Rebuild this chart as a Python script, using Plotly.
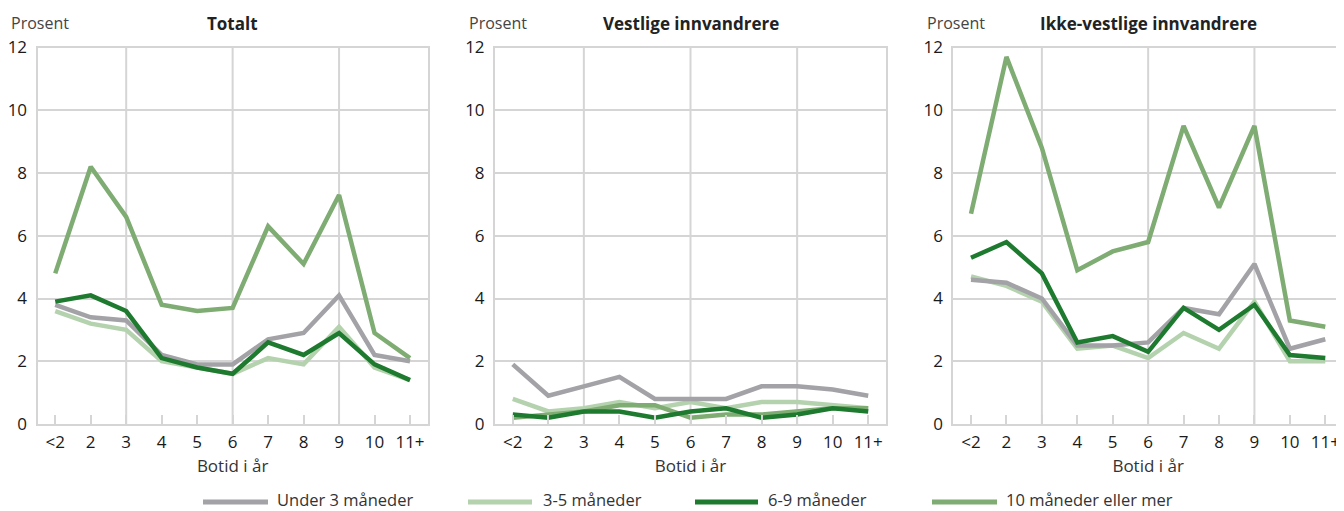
import plotly.graph_objects as go

# ---------------- data ----------------
categories = ["<2", "2", "3", "4", "5", "6", "7", "8", "9", "10", "11+"]
series_names = ["Under 3 måneder", "3-5 måneder", "6-9 måneder", "10 måneder eller mer"]
panel_titles = ["Totalt", "Vestlige innvandrere", "Ikke-vestlige innvandrere"]
grid_categories = ["3", "6", "9"]

totalt_under3 = [3.8, 3.4, 3.3, 2.2, 1.9, 1.9, 2.7, 2.9, 4.1, 2.2, 2.0]
totalt_3_5 = [3.6, 3.2, 3.0, 2.0, 1.8, 1.6, 2.1, 1.9, 3.1, 1.8, 1.4]
totalt_6_9 = [3.9, 4.1, 3.6, 2.1, 1.8, 1.6, 2.6, 2.2, 2.9, 1.9, 1.4]
totalt_10pluss = [4.8, 8.2, 6.6, 3.8, 3.6, 3.7, 6.3, 5.1, 7.3, 2.9, 2.1]

vestlige_under3 = [1.9, 0.9, 1.2, 1.5, 0.8, 0.8, 0.8, 1.2, 1.2, 1.1, 0.9]
vestlige_3_5 = [0.8, 0.4, 0.5, 0.7, 0.5, 0.7, 0.5, 0.7, 0.7, 0.6, 0.5]
vestlige_6_9 = [0.3, 0.2, 0.4, 0.4, 0.2, 0.4, 0.5, 0.2, 0.3, 0.5, 0.4]
vestlige_10pluss = [0.2, 0.3, 0.4, 0.6, 0.6, 0.2, 0.3, 0.3, 0.4, 0.5, 0.5]

ikkevestlige_under3 = [4.6, 4.5, 4.0, 2.5, 2.5, 2.6, 3.7, 3.5, 5.1, 2.4, 2.7]
ikkevestlige_3_5 = [4.7, 4.4, 3.9, 2.4, 2.5, 2.1, 2.9, 2.4, 3.9, 2.0, 2.0]
ikkevestlige_6_9 = [5.3, 5.8, 4.8, 2.6, 2.8, 2.3, 3.7, 3.0, 3.8, 2.2, 2.1]
ikkevestlige_10pluss = [6.7, 11.7, 8.8, 4.9, 5.5, 5.8, 9.5, 6.9, 9.5, 3.3, 3.1]

y_ticks = [0, 2, 4, 6, 8, 10, 12]

# ---------------- styles ----------------
# The page body has an 8px margin, so the figure is sized to fill the
# remaining viewport and all positions below are given in window pixels.
OX, OY = 8, 8
W, H = 1344 - OX, 511 - OY


def xp(px):
    return (px - OX) / W


def yp(py):
    return 1 - (py - OY) / H


colors = {
    "Under 3 måneder": "#a2a2a7",
    "3-5 måneder": "#b4d2ae",
    "6-9 måneder": "#1d7a2e",
    "10 måneder eller mer": "#7fac73",
}
draw_order = ["3-5 måneder", "10 måneder eller mer", "Under 3 måneder", "6-9 måneder"]
GRID = "#d5d5d5"
FONT = "Open Sans"
TXT = "#1a1a1a"

panels = [
    {"under3": totalt_under3, "3_5": totalt_3_5, "6_9": totalt_6_9, "10": totalt_10pluss},
    {"under3": vestlige_under3, "3_5": vestlige_3_5, "6_9": vestlige_6_9, "10": vestlige_10pluss},
    {"under3": ikkevestlige_under3, "3_5": ikkevestlige_3_5, "6_9": ikkevestlige_6_9, "10": ikkevestlige_10pluss},
]
key_of = {"Under 3 måneder": "under3", "3-5 måneder": "3_5", "6-9 måneder": "6_9", "10 måneder eller mer": "10"}

# window-pixel layout of panels
x_px = [(37.5, 427.75), (495.0, 886.0), (953.3, 1343.0)]
y_px = (47.5, 424.0)  # top (12), bottom (0)
ydom = [yp(y_px[1]), yp(y_px[0])]

fig = go.Figure()

for i, pdata in enumerate(panels):
    xa = "x" if i == 0 else f"x{i+1}"
    ya = "y" if i == 0 else f"y{i+1}"
    for name in draw_order:
        fig.add_trace(go.Scatter(
            x=categories, y=pdata[key_of[name]], mode="lines", name=name,
            line=dict(color=colors[name], width=4.5),
            xaxis=xa, yaxis=ya, showlegend=False,
        ))

layout = dict(
    template="none",
    width=W, height=H, autosize=False,
    margin=dict(l=0, r=0, t=0, b=0, pad=0, autoexpand=False),
    paper_bgcolor="white", plot_bgcolor="white",
    font=dict(family=FONT, size=17, color=TXT),
    showlegend=False,
)

annotations = []
shapes = []
for i in range(3):
    n = "" if i == 0 else str(i + 1)
    dom = [xp(x_px[i][0]), xp(x_px[i][1])]
    layout[f"xaxis{n}"] = dict(
        domain=dom, anchor=f"y{n}", type="category",
        range=[-0.5, len(categories) - 0.5],
        automargin=False,
        showgrid=False, zeroline=False,
        showline=True, linecolor=GRID, linewidth=2, mirror=True,
        ticks="inside", ticklen=9, tickwidth=2, tickcolor=GRID,
        tickfont=dict(size=17, color=TXT), ticklabelstandoff=2,
        title=dict(text="Botid i år", font=dict(size=17, color="#333333"), standoff=8),
        fixedrange=True,
    )
    layout[f"yaxis{n}"] = dict(
        domain=ydom, anchor=f"x{n}", range=[0, 12],
        automargin=False,
        tickvals=y_ticks, showgrid=True, gridcolor=GRID, gridwidth=2,
        zeroline=False, showline=True, linecolor=GRID, linewidth=2, mirror=True,
        ticks="", tickfont=dict(size=17, color=TXT), ticklabelstandoff=5,
        fixedrange=True,
    )
    # vertical gridlines at categories 3, 6 and 9 (category index on the axis)
    for c in grid_categories:
        ci = categories.index(c)
        shapes.append(dict(type="line", xref=f"x{n}", yref=f"y{n} domain",
                           x0=ci, x1=ci, y0=0, y1=1, layer="below",
                           line=dict(color=GRID, width=2)))
    cx = (dom[0] + dom[1]) / 2
    annotations.append(dict(
        text=f"<b>{panel_titles[i]}</b>", x=cx, y=yp(23), xref="paper", yref="paper",
        xanchor="center", yanchor="middle", showarrow=False,
        font=dict(size=17, color="#222222"),
    ))
    annotations.append(dict(
        text="Prosent", x=xp(x_px[i][0] - 28.5), y=yp(23), xref="paper", yref="paper",
        xanchor="left", yanchor="middle", showarrow=False,
        font=dict(size=16, color="#444444"),
    ))

# manual legend (wide line swatches like the original)
legend_order = ["Under 3 måneder", "3-5 måneder", "6-9 måneder", "10 måneder eller mer"]
legend_x = [(203, 268, 276), (468, 532, 542), (695, 758, 767), (932, 997, 1005)]
ly_swatch = yp(502)
ly_text = yp(499.5)
for name, (x0, x1, tx) in zip(legend_order, legend_x):
    shapes.append(dict(type="line", xref="paper", yref="paper",
                       x0=xp(x0), x1=xp(x1), y0=ly_swatch, y1=ly_swatch,
                       line=dict(color=colors[name], width=5)))
    annotations.append(dict(text=name, x=xp(tx), y=ly_text, xref="paper", yref="paper",
                            xanchor="left", yanchor="middle", showarrow=False,
                            borderpad=0,
                            font=dict(size=16.5, color="#333333")))

layout["annotations"] = annotations
layout["shapes"] = shapes
fig.update_layout(**layout)

fig.write_html("out.html", config={"displayModeBar": False})
